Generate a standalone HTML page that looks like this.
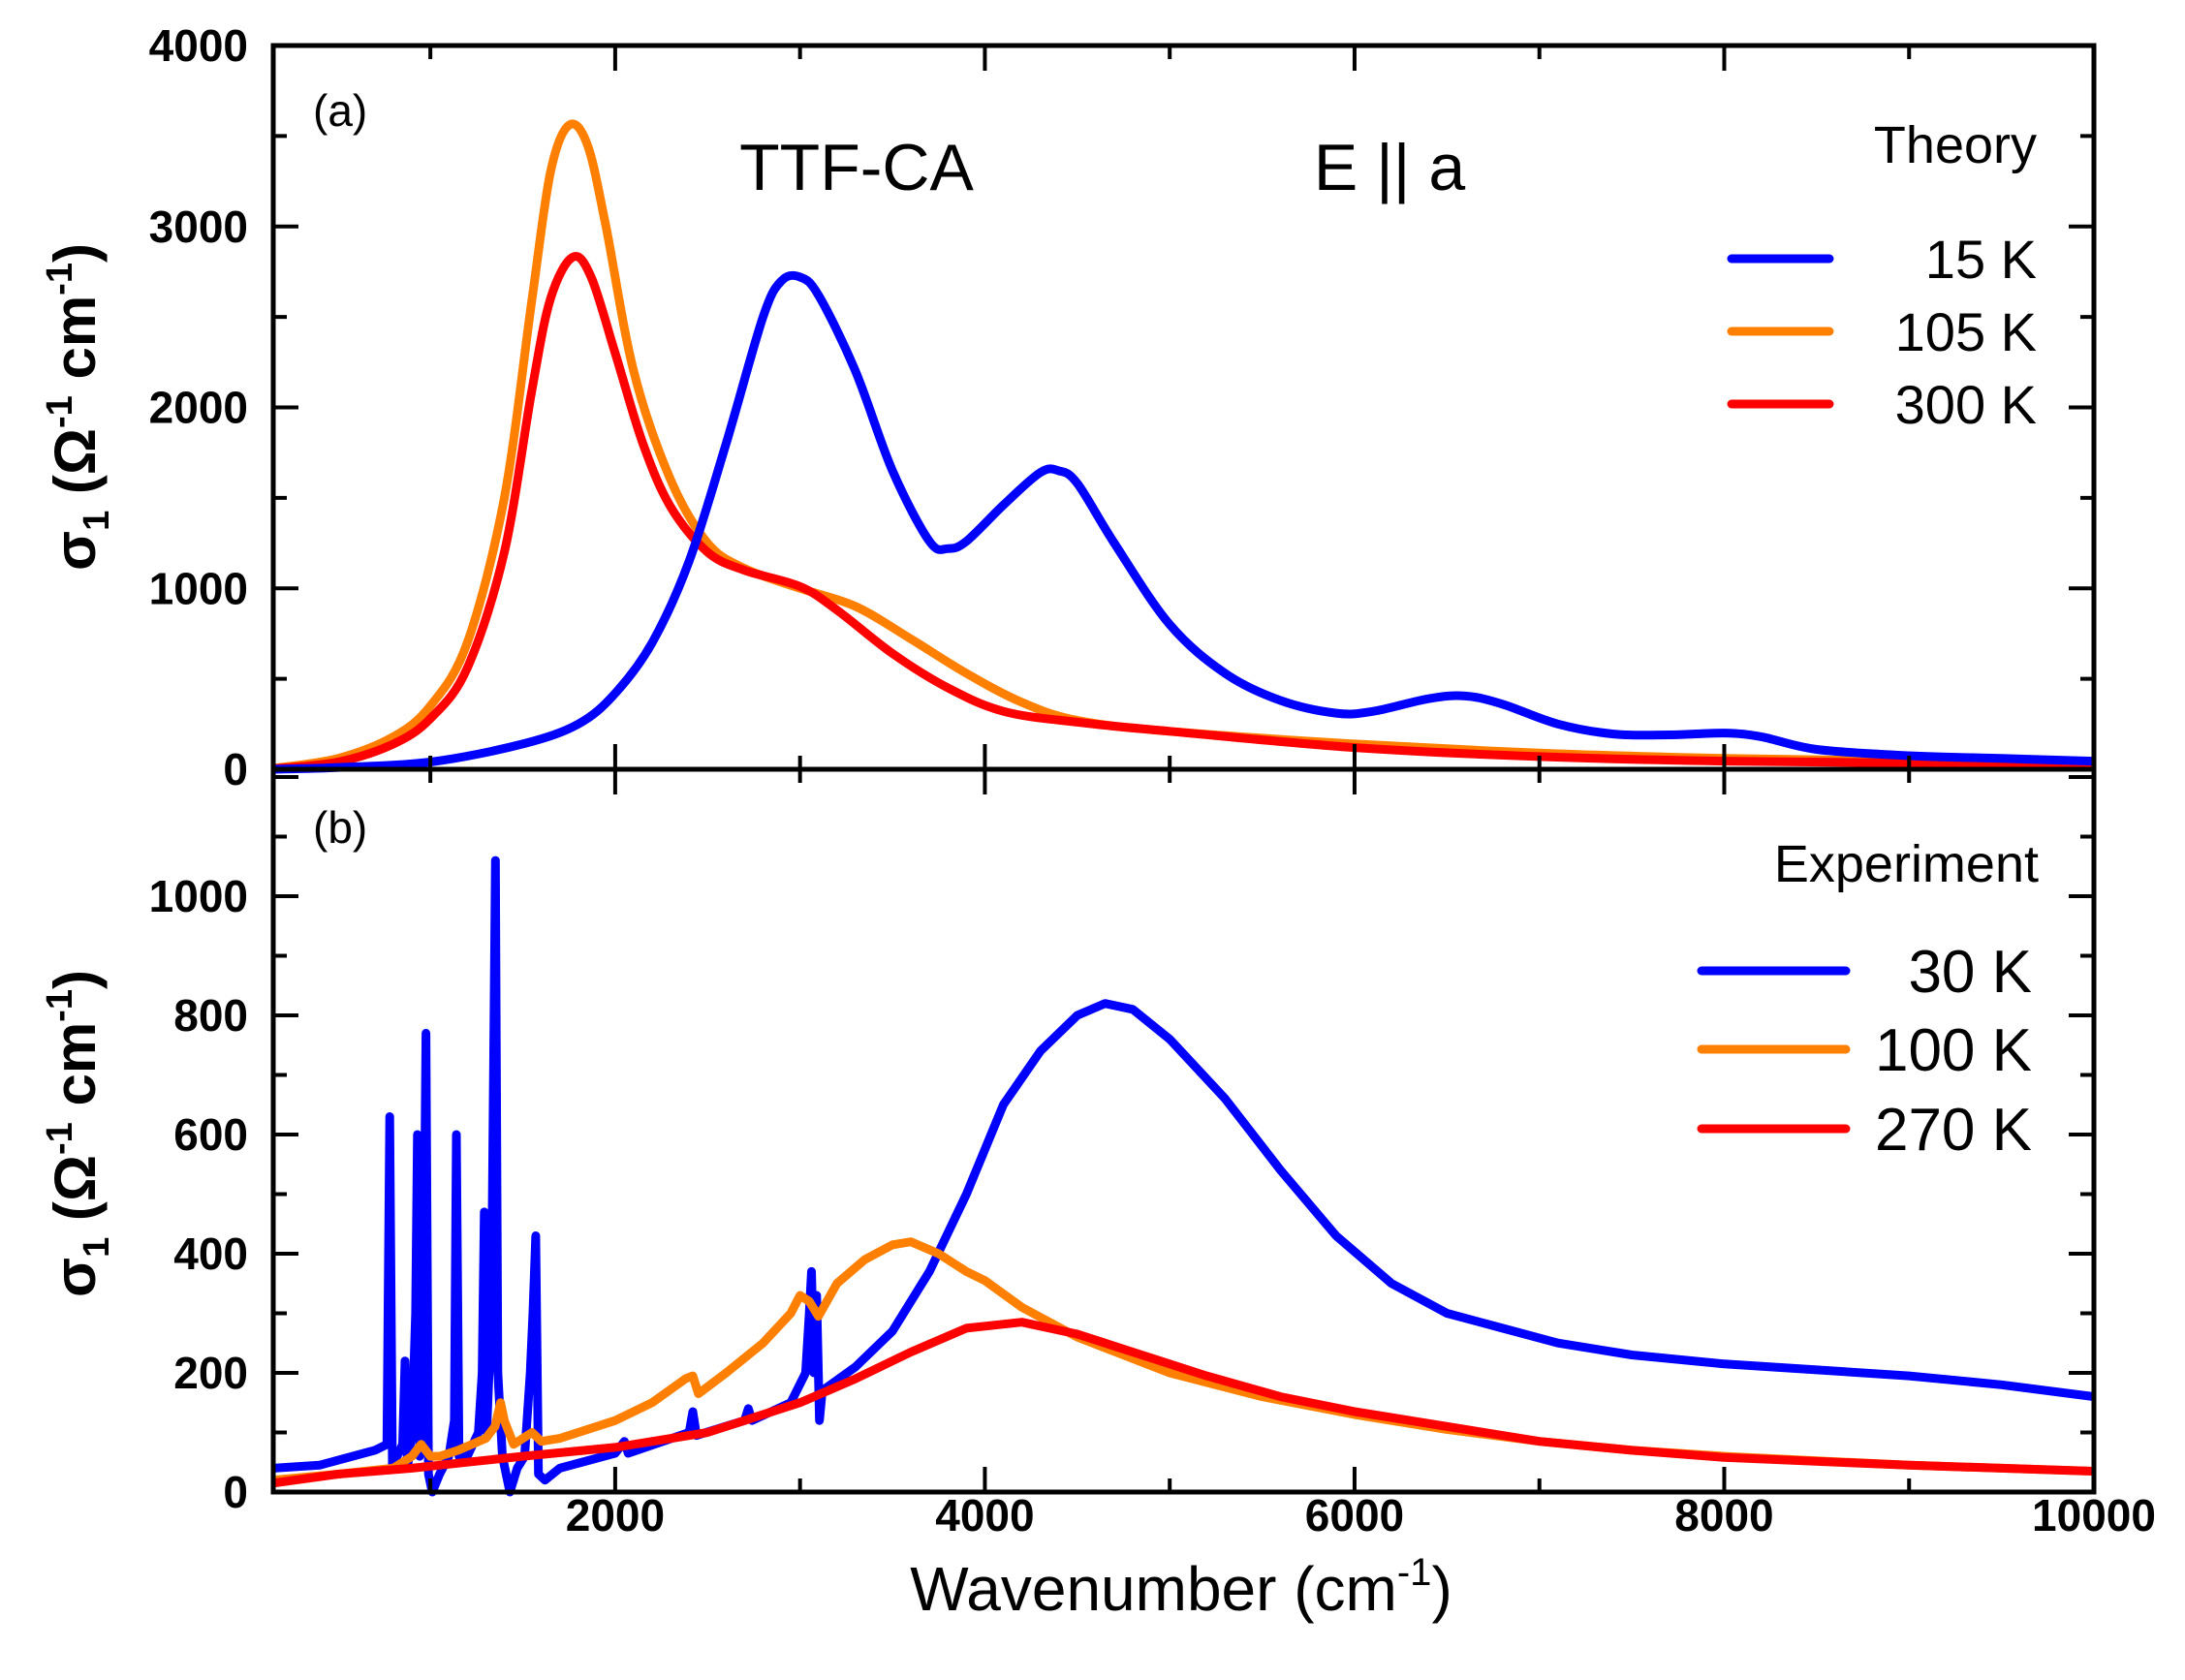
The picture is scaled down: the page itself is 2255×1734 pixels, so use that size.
<!DOCTYPE html>
<html><head><meta charset="utf-8"><style>
html,body{margin:0;padding:0;background:#fff}
svg{display:block;font-family:"Liberation Sans",sans-serif}
</style></head><body>
<svg id="chart" width="2255" height="1734" viewBox="0 0 2255 1734" xmlns="http://www.w3.org/2000/svg">
<g id="marks"></g>
<g id="axes"></g>
<text x="323" y="130" font-size="46">(a)</text>
<text x="884" y="196" font-size="68" text-anchor="middle">TTF-CA</text>
<text x="1434" y="196" font-size="68" text-anchor="middle">E || a</text>
<text x="2102" y="168" font-size="54" text-anchor="end">Theory</text>
<text x="323" y="870" font-size="46">(b)</text>
<text x="2104" y="910" font-size="54" text-anchor="end">Experiment</text>
<text x="1219" y="1662" font-size="64" text-anchor="middle">Wavenumber (cm<tspan font-size="40" dy="-26">-1</tspan><tspan dy="26">)</tspan></text>
<text transform="translate(98,420) rotate(-90)" font-size="60" font-weight="bold" text-anchor="middle">σ<tspan font-size="38" dy="14">1</tspan><tspan dy="-14"> (Ω</tspan><tspan font-size="38" dy="-24">-1</tspan><tspan dy="24"> cm</tspan><tspan font-size="38" dy="-24">-1</tspan><tspan dy="24">)</tspan></text>
<text transform="translate(98,1170) rotate(-90)" font-size="60" font-weight="bold" text-anchor="middle">σ<tspan font-size="38" dy="14">1</tspan><tspan dy="-14"> (Ω</tspan><tspan font-size="38" dy="-24">-1</tspan><tspan dy="24"> cm</tspan><tspan font-size="38" dy="-24">-1</tspan><tspan dy="24">)</tspan></text>
</svg>
<script>
const xTicks = [2000, 4000, 6000, 8000, 10000];
const yTicksTop = [0, 1000, 2000, 3000, 4000];
const yTicksBottom = [0, 200, 400, 600, 800, 1000];
const theoryLabels = ["15 K", "105 K", "300 K"];
const expLabels = ["30 K", "100 K", "270 K"];
const colors = ["#0000ff", "#ff8000", "#ff0000"];

const th15x = [150,500,1000,1500,1800,2000,2200,2400,2600,2800,2900,3000,3100,3300,3500,3700,3800,3900,4100,4300,4400,4500,4700,5000,5300,5600,5900,6100,6400,6600,6800,7100,7400,7700,8000,8200,8500,9000,9500,10000];
const th15y = [0,10,40,140,250,420,700,1150,1800,2500,2700,2720,2620,2200,1650,1260,1220,1260,1460,1640,1650,1580,1250,800,530,380,310,320,390,405,360,250,195,190,200,180,110,75,60,45];
const th105x = [150,500,800,1000,1200,1400,1550,1650,1750,1850,1950,2100,2300,2500,2700,3000,3300,3600,3900,4200,4500,5000,6000,7000,8000,9000,10000];
const th105y = [5,60,180,350,700,1500,2600,3300,3560,3450,3000,2200,1600,1250,1110,1000,900,720,530,370,270,210,140,90,60,45,35];
const th300x = [150,500,800,1000,1200,1400,1550,1650,1770,1870,2000,2150,2300,2500,2700,3000,3200,3500,3800,4100,4500,5000,6000,7000,8000,9000,10000];
const th300y = [3,40,140,280,560,1200,2100,2600,2830,2720,2300,1800,1450,1200,1100,1010,880,640,450,320,260,210,120,70,45,35,30];

const ex30x = [150,400,700,765,780,795,820,850,863,876,900,920,930,942,960,976,990,1010,1050,1100,1130,1141,1155,1200,1260,1280,1292,1305,1330,1352,1365,1390,1430,1470,1510,1540,1555,1570,1585,1620,1700,2000,2050,2070,2400,2420,2440,2700,2720,2740,2950,3030,3050,3062,3075,3090,3105,3120,3300,3500,3700,3900,4100,4300,4500,4650,4800,5000,5300,5600,5900,6200,6500,6800,7100,7500,8000,8500,9000,9500,10000];
const ex30y = [40,45,70,80,630,40,60,80,220,40,100,300,600,60,200,770,30,0,30,60,120,600,60,60,100,200,470,100,300,1060,200,60,0,40,60,200,300,430,30,20,40,65,85,65,100,135,95,120,140,120,150,200,300,370,200,330,120,170,210,270,370,500,650,740,800,820,810,760,660,540,430,350,300,275,250,230,215,205,195,180,160];
const ex100x = [150,500,800,900,950,1000,1050,1150,1300,1350,1380,1400,1450,1550,1600,1700,2000,2200,2380,2420,2450,2600,2800,2950,3000,3050,3100,3200,3350,3500,3600,3750,3900,4000,4200,4500,5000,5500,6000,6500,7000,7500,8000,9000,10000];
const ex100y = [20,30,40,60,80,60,60,70,90,110,150,120,80,100,85,90,120,150,190,195,165,200,250,300,330,320,295,350,390,415,420,400,370,355,310,260,200,160,130,105,85,70,60,45,35];
const ex270x = [150,500,900,1200,1500,2000,2500,3000,3300,3600,3900,4200,4500,4800,5200,5600,6000,6500,7000,7500,8000,9000,10000];
const ex270y = [15,30,40,50,60,75,100,150,190,235,275,285,265,235,195,160,135,110,85,70,58,45,35];

const L=282, R=2161, T=47, M=794, B=1540;
const xMin=150, xMax=10000, yTopMax=4000, yBotMax=1213;
const sx = v => L + (v - xMin) / (xMax - xMin) * (R - L);
const syTop = v => M - v / yTopMax * (M - T);
const syBot = v => B - v / yBotMax * (B - M);
const NS="http://www.w3.org/2000/svg";
const marks=document.getElementById('marks'), axes=document.getElementById('axes');

function line(xs, ys, fy, color, name, parent, smooth){
  const p=document.createElementNS(NS,'path');
  const P=xs.map((x,i)=>[sx(x),fy(ys[i])]);
  let d='M'+P[0][0].toFixed(1)+','+P[0][1].toFixed(1);
  for(let i=0;i<P.length-1;i++){
    if(smooth){
      const p0=P[Math.max(0,i-1)],p1=P[i],p2=P[i+1],p3=P[Math.min(P.length-1,i+2)];
      const c1=[p1[0]+(p2[0]-p0[0])/6,p1[1]+(p2[1]-p0[1])/6];
      const c2=[p2[0]-(p3[0]-p1[0])/6,p2[1]-(p3[1]-p1[1])/6];
      d+='C'+c1.map(v=>v.toFixed(1)).join(',')+' '+c2.map(v=>v.toFixed(1)).join(',')+' '+p2.map(v=>v.toFixed(1)).join(',');
    } else d+='L'+P[i+1][0].toFixed(1)+','+P[i+1][1].toFixed(1);
  }
  p.setAttribute('d',d);p.setAttribute('fill','none');p.setAttribute('stroke',color);
  p.setAttribute('stroke-width','9');p.setAttribute('stroke-linejoin','round');
  
  
  parent.appendChild(p);
}
const clipTop=document.createElementNS(NS,'g');


marks.appendChild(clipTop);
line(th105x,th105y,syTop,colors[1],'series-theory-105k',clipTop,true);
line(th300x,th300y,syTop,colors[2],'series-theory-300k',clipTop,true);
line(th15x,th15y,syTop,colors[0],'series-theory-15k',clipTop,true);
const expG=document.createElementNS(NS,'g');


marks.appendChild(expG);
line(ex30x,ex30y,syBot,colors[0],'series-exp-30k',expG,false);
line(ex100x,ex100y,syBot,colors[1],'series-exp-100k',expG,false);
line(ex270x,ex270y,syBot,colors[2],'series-exp-270k',expG,false);

function el(tag,attrs,parent){const e=document.createElementNS(NS,tag);for(const k in attrs)e.setAttribute(k,attrs[k]);(parent||axes).appendChild(e);return e;}
function tick(x1,y1,x2,y2){const t=el('line',{x1,y1,x2,y2,stroke:'#000','stroke-width':4});
  
  }
[[T,M,'frame-top-panel'],[M,B,'frame-bottom-panel']].forEach(([a,b,n])=>{
  const r=el('rect',{x:L,y:a,width:R-L,height:b-a,fill:'none',stroke:'#000','stroke-width':5});
  
  
});
for(let v=1000;v<=10000;v+=1000){
  const x=sx(v), len=(v%2000===0)?26:14;
  [[M,-1],[T,1],[B,-1],[M,1]].forEach(([y,dir])=>tick(x,y,x,y+dir*len));
}
xTicks.forEach(v=>{
  const t=el('text',{x:sx(v),y:1580,'font-size':46,'font-weight':'bold','text-anchor':'middle'});t.textContent=v;
  
  
});
for(let v=0;v<=4000;v+=500){
  const y=syTop(v), len=(v%1000===0)?26:14;
  tick(L,y,L+len,y);tick(R,y,R-len,y);
}
yTicksTop.forEach(v=>{
  const t=el('text',{x:256,y:syTop(v)+16,'font-size':46,'font-weight':'bold','text-anchor':'end'});t.textContent=v;
  
  
});
for(let v=0;v<=1200;v+=100){
  const y=syBot(v), len=(v%200===0)?26:14;
  tick(L,y,L+len,y);tick(R,y,R-len,y);
}
yTicksBottom.forEach(v=>{
  const t=el('text',{x:256,y:syBot(v)+16,'font-size':46,'font-weight':'bold','text-anchor':'end'});t.textContent=v;
  
  
});
const legT=[267,342,417], legE=[1002,1083,1165];
theoryLabels.forEach((lab,i)=>{
  const l=el('line',{x1:1787,y1:legT[i],x2:1888,y2:legT[i],stroke:colors[i],'stroke-width':9,'stroke-linecap':'round'});
  
  
  const t=el('text',{x:2102,y:legT[i]+20,'font-size':56,'text-anchor':'end'});t.textContent=lab;
  
  
});
expLabels.forEach((lab,i)=>{
  const l=el('line',{x1:1756,y1:legE[i],x2:1905,y2:legE[i],stroke:colors[i],'stroke-width':9,'stroke-linecap':'round'});
  
  
  const t=el('text',{x:2097,y:legE[i]+22,'font-size':62,'text-anchor':'end'});t.textContent=lab;
  
  
});
</script>
</body></html>
